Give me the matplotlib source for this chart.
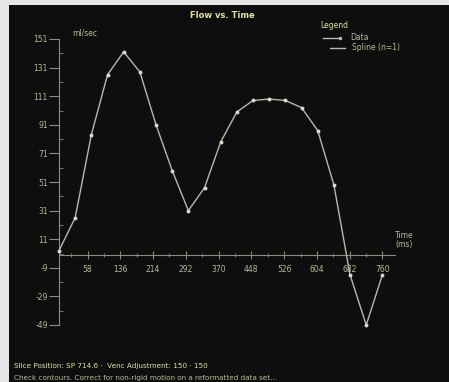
import matplotlib
matplotlib.use("Agg")
import matplotlib.pyplot as plt
from matplotlib.lines import Line2D
from matplotlib.ticker import FixedLocator

# ---- data ----
time_ms = [-10, 28.5, 67, 105.5, 144, 182.5, 221, 259.5, 298, 336.5, 375,
           413.5, 452, 490.5, 529, 567.5, 606, 644.5, 683, 721.5, 760]
flow = [3, 26, 84, 126, 142, 128, 91, 59, 31, 47, 79,
        100, 108, 109, 108, 103, 87, 49, -14, -49, -14]
x_ticks = [58, 136, 214, 292, 370, 448, 526, 604, 682, 760]
y_ticks = [-49, -29, -9, 11, 31, 51, 71, 91, 111, 131, 151]

title = "Flow vs. Time"
y_label = "ml/sec"
x_label = "Time\n(ms)"
footer1 = "Slice Position: SP 714.6 ·  Venc Adjustment: 150 · 150"
footer2 = "Check contours. Correct for non-rigid motion on a reformatted data set..."

BG = "#0e0e0e"
LINE = "#b8b8ae"
AXC = "#8c8c80"
TXT = "#b9b99a"
YEL = "#dfe39a"

fig = plt.figure(figsize=(4.49, 3.82), dpi=100, facecolor="#e6e6e6")
bg = fig.add_axes([9/449, 0, 1 - 9/449, 1 - 5/382], zorder=-5)
bg.set_facecolor(BG)
bg.set_xticks([]); bg.set_yticks([])
for s in bg.spines.values():
    s.set_visible(False)

ax = fig.add_axes([59/449, (382-325)/382, 336/449, 286/382], zorder=1)
ax.set_facecolor("none")
ax.set_xlim(-10, 790)
ax.set_ylim(-49, 151)

ax.plot(time_ms, flow, color=LINE, lw=1.0, marker="o", ms=1.8, mfc="#d8d8cc",
        mec="#d8d8cc", clip_on=False, zorder=3)

for s in ["top", "right"]:
    ax.spines[s].set_visible(False)
ax.spines["left"].set_color(AXC)
ax.spines["left"].set_bounds(-49, 151)
ax.spines["left"].set_position(("data", -10))
ax.spines["bottom"].set_position(("data", 0))
ax.spines["bottom"].set_color(AXC)
ax.spines["bottom"].set_bounds(-10, 790)

ax.yaxis.set_major_locator(FixedLocator(y_ticks))
ax.yaxis.set_minor_locator(FixedLocator([v + 10 for v in y_ticks[:-1]]))
ax.xaxis.set_major_locator(FixedLocator(x_ticks))
ax.xaxis.set_minor_locator(FixedLocator([v - 39 for v in x_ticks] + [799]))
ax.tick_params(axis="y", which="major", direction="out", length=7, color=AXC,
               labelcolor=TXT, labelsize=5.5, pad=1)
ax.tick_params(axis="y", which="minor", direction="in", length=3, color=AXC)
ax.tick_params(axis="x", which="major", direction="inout", length=6, color=AXC,
               labelcolor=TXT, labelsize=5.5, pad=4)
ax.tick_params(axis="x", which="minor", direction="inout", length=3, color=AXC)
ax.set_yticklabels([str(v) for v in y_ticks])
ax.set_xticklabels([str(v) for v in x_ticks])

fig.text(222/449, 1 - 15/382, title, color=YEL, fontsize=6, ha="center", va="center",
         fontweight="bold")
fig.text(72/449, 1 - 33/382, y_label, color=TXT, fontsize=5.5, ha="left", va="center")
fig.text(395/449, 1 - 240/382, x_label, color=TXT, fontsize=5.5, ha="left", va="center",
         linespacing=1.1)

fig.text(320/449, 1 - 25/382, "Legend", color=YEL, fontsize=5.5, ha="left", va="center")
fig.add_artist(Line2D([323/449, 340/449], [1 - 38/382] * 2, color=LINE, lw=1,
                      marker="o", ms=1.5, markevery=[1], transform=fig.transFigure))
fig.text(350/449, 1 - 38/382, "Data", color=TXT, fontsize=5.5, ha="left", va="center")
fig.add_artist(Line2D([330/449, 345/449], [1 - 48/382] * 2, color=LINE, lw=1,
                      transform=fig.transFigure))
fig.text(352/449, 1 - 48/382, "Spline (n=1)", color=TXT, fontsize=5.5, ha="left", va="center")

fig.text(14/449, 1 - 366/382, footer1, color=YEL, fontsize=5.2, ha="left", va="center")
fig.text(14/449, 1 - 378/382, footer2, color=TXT, fontsize=5.2, ha="left", va="center")

fig.savefig("out.png", dpi=100, facecolor=fig.get_facecolor())
